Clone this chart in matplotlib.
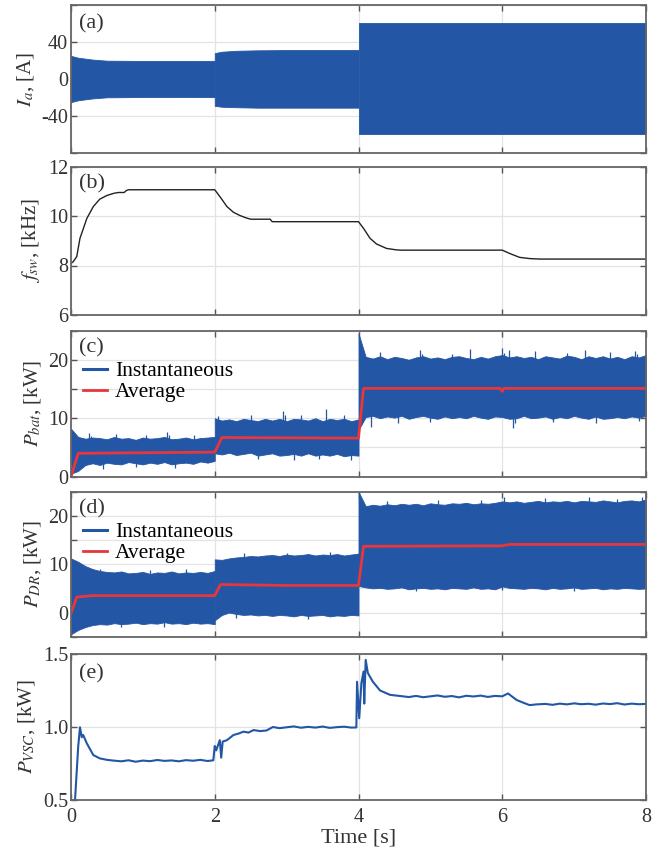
import numpy as np
import matplotlib
matplotlib.use("Agg")
import matplotlib.pyplot as plt

plt.rcParams['font.family'] = ['Liberation Serif', 'DejaVu Serif']
plt.rcParams['mathtext.fontset'] = 'stix'
plt.rcParams['font.size'] = 15

BLUE = '#2356a5'
RED = '#e8363a'
BLACK = '#222222'
TXT = '#333333'

# ---- (a) phase current envelope, [A]
ia_t1 = [0.0, 0.1, 0.3, 0.5, 1.0, 1.5, 2.0]
ia_up1 = [25.0, 23.0, 21.0, 19.8, 19.5, 19.5, 19.6]
ia_lo1 = [-25.0, -23.0, -21.0, -19.8, -19.5, -19.5, -19.6]
ia_t2 = [2.0, 2.1, 2.3, 2.6, 3.0, 4.0]
ia_up2 = [28.0, 29.5, 30.5, 31.0, 31.3, 31.3]
ia_lo2 = [-29.0, -30.0, -30.5, -31.0, -31.0, -31.0]
ia_t3 = [4.0, 8.0]
ia_up3 = [60.5, 60.5]
ia_lo3 = [-59.5, -59.5]

# ---- (b) switching frequency, [kHz]
fsw_t = [0.0, 0.03, 0.08, 0.125, 0.22, 0.31, 0.40, 0.50, 0.60, 0.66, 0.74, 0.77, 0.80,
         2.0, 2.07, 2.17, 2.26, 2.35, 2.44, 2.50, 2.77, 2.80,
         4.0, 4.07, 4.16, 4.25, 4.39, 4.53, 4.60,
         6.0, 6.1, 6.24, 6.38, 6.52, 8.0]
fsw = [8.09, 8.15, 8.36, 9.1, 9.9, 10.38, 10.68, 10.83, 10.92, 10.95, 10.95, 11.03, 11.06,
       11.06, 10.79, 10.38, 10.15, 10.02, 9.92, 9.87, 9.87, 9.77,
       9.77, 9.5, 9.1, 8.87, 8.69, 8.63, 8.62,
       8.62, 8.49, 8.33, 8.28, 8.26, 8.26]

# ---- (c) battery power, [kW]  (envelope of instantaneous + spikes + average)
pbat_up1 = [8.2, 6.8, 6.5, 6.7, 6.6, 6.4, 6.8, 6.5, 6.6, 6.3, 6.7,
            6.5, 6.6, 6.8, 6.4, 6.5, 6.7, 6.4, 6.6, 6.7, 6.8]
pbat_lo1 = [0.5, 1.0, 2.0, 2.3, 2.0, 2.4, 2.2, 2.1, 2.5, 2.3, 2.1,
            2.4, 2.2, 2.5, 2.1, 2.3, 2.4, 2.2, 2.6, 2.4, 2.7]
pbat_up2 = [10.0, 9.6, 9.8, 9.5, 9.9, 9.7, 9.5, 9.9, 9.6, 9.9, 9.5,
            9.9, 9.8, 9.6, 10.0, 9.5, 9.9, 9.7, 9.9, 9.5, 9.8]
pbat_lo2 = [4.0, 3.8, 4.1, 3.7, 3.9, 4.1, 3.6, 3.8, 4.0, 3.6, 3.7,
            3.9, 3.6, 4.0, 3.6, 3.8, 3.6, 3.9, 3.5, 3.7, 3.6]
pbat_up3 = [24.5, 20.5, 20.2, 20.6, 20.1, 20.5, 20.3, 20.0, 20.4, 20.6, 20.2,
            20.4, 20.1, 20.5, 20.6, 20.3, 20.1, 20.5, 20.2, 20.6, 20.8,
            20.4, 20.6, 20.3, 20.5, 20.1, 20.6, 20.4, 20.2, 20.7, 20.5,
            20.1, 20.6, 20.3, 20.6, 20.2, 20.5, 20.1, 20.6, 20.4, 20.8]
pbat_lo3 = [8.0, 10.2, 10.4, 10.0, 10.3, 10.1, 10.4, 9.9, 10.2, 10.4, 10.1,
            9.9, 10.3, 10.0, 10.2, 10.0, 10.4, 10.1, 9.9, 10.3, 10.2,
            9.9, 10.0, 10.4, 10.0, 10.1, 10.3, 9.9, 10.2, 10.0, 10.4,
            10.1, 9.9, 10.3, 9.9, 10.0, 10.2, 10.0, 10.3, 10.1, 10.4]
pbat_spk_up_t = [0.25, 0.28, 0.62, 1.05, 1.33, 1.36, 1.71, 2.05, 2.5, 2.95, 2.98, 3.2, 3.55, 3.8,
                 4.3, 4.85, 4.88, 5.3, 5.55, 6.0, 6.03, 6.1, 6.45, 6.9, 7.15, 7.5, 7.85, 7.88]
pbat_spk_up = [7.5, 7.0, 7.3, 7.1, 7.6, 7.2, 7.2, 10.3, 10.6, 11.3, 10.5, 10.6, 11.6, 10.5,
               21.3, 21.6, 21.0, 21.0, 21.8, 22.0, 21.2, 21.6, 21.5, 21.2, 21.6, 21.3, 21.5, 21.0]
pbat_spk_lo_t = [0.45, 0.9, 1.45, 2.6, 3.1, 3.45, 3.9, 4.18, 4.55, 5.0, 6.15, 6.18, 6.7, 7.3, 7.9]
pbat_spk_lo = [1.4, 1.6, 1.5, 3.0, 2.8, 3.1, 2.9, 8.5, 9.2, 9.4, 8.3, 9.2, 9.3, 9.2, 9.5]
pbat_avg_t = [0.0, 0.1, 2.0, 2.1, 4.0, 4.07, 5.97, 6.0, 6.02, 8.0]
pbat_avg = [0.0, 4.0, 4.2, 6.7, 6.6, 15.1, 15.1, 14.6, 15.1, 15.1]

# ---- (d) diode rectifier power, [kW]
pdr_up1 = [11.2, 10.5, 9.6, 9.0, 8.6, 8.4, 8.3, 8.5, 8.1, 8.2, 8.4,
           8.0, 8.3, 8.2, 8.5, 8.1, 8.3, 8.2, 8.4, 8.2, 8.6]
pdr_lo1 = [-4.5, -3.6, -3.0, -2.6, -2.4, -2.5, -2.2, -2.4, -2.3, -2.1, -2.4,
           -2.2, -2.3, -2.0, -2.3, -2.2, -2.4, -2.1, -2.3, -2.2, -2.4]
pdr_up2 = [11.0, 10.9, 11.2, 11.4, 11.5, 11.7, 11.6, 11.8, 11.9, 11.7, 12.0,
           11.8, 11.9, 12.1, 11.8, 12.0, 11.9, 12.1, 11.8, 12.0, 12.2]
pdr_lo2 = [-1.6, -0.5, 0.0, -0.3, -0.5, -0.4, -0.6, -0.5, -0.7, -0.5, -0.6,
           -0.8, -0.5, -0.7, -0.6, -0.5, -0.8, -0.6, -0.7, -0.5, -0.6]
pdr_up3 = [25.0, 22.0, 22.3, 22.1, 22.4, 22.2, 22.5, 22.3, 22.5, 22.2, 22.6,
           22.4, 22.3, 22.6, 22.5, 22.7, 22.4, 22.6, 22.5, 22.7, 23.0,
           22.8, 23.0, 22.7, 22.9, 23.1, 22.8, 23.0, 22.9, 23.1, 22.8,
           23.1, 23.0, 22.9, 23.2, 23.0, 22.8, 23.1, 23.2, 23.0, 23.4]
pdr_lo3 = [5.5, 5.2, 5.0, 5.1, 4.9, 5.0, 5.2, 4.8, 5.0, 5.1, 4.9,
           5.0, 4.8, 5.1, 5.0, 4.9, 5.2, 4.9, 5.0, 4.8, 5.4,
           5.1, 5.0, 4.9, 5.1, 5.0, 4.8, 5.1, 4.9, 5.0, 5.2,
           4.9, 5.0, 5.1, 4.8, 5.0, 4.9, 5.1, 5.0, 4.9, 5.0]
pdr_spk_up_t = [0.4, 1.1, 1.6, 2.4, 3.0, 3.6, 4.4, 5.1, 5.7, 6.02, 6.6, 7.2, 7.6, 7.95]
pdr_spk_up = [9.0, 8.9, 9.1, 12.3, 12.4, 12.6, 23.0, 23.2, 23.3, 23.8, 23.6, 23.9, 23.5, 24.0]
pdr_spk_lo_t = [0.7, 1.3, 2.3, 3.3, 4.8, 6.0, 7.0]
pdr_spk_lo = [-3.0, -2.9, -1.2, -1.3, 4.5, 4.6, 4.4]
pdr_avg_t = [0.0, 0.08, 0.3, 2.0, 2.08, 3.0, 4.0, 4.07, 6.0, 6.1, 8.0]
pdr_avg = [-0.2, 3.2, 3.5, 3.5, 5.8, 5.6, 5.6, 13.7, 13.8, 14.1, 14.1]

# ---- (e) VSC power, [kW]
pvsc_t = [0.0, 0.056, 0.10, 0.125, 0.15, 0.17, 0.22, 0.31, 0.40, 0.50, 0.59,
          0.7, 0.8, 0.9, 1.0, 1.1, 1.2, 1.3, 1.4, 1.5, 1.6, 1.7, 1.8, 1.9,
          1.98, 2.0, 2.02, 2.07, 2.09, 2.11, 2.17, 2.26, 2.33, 2.40, 2.47, 2.54, 2.63, 2.72, 2.81,
          2.9, 3.0, 3.1, 3.2, 3.3, 3.4, 3.5, 3.6, 3.7, 3.8, 3.9,
          3.97, 3.98, 4.01, 4.04, 4.07, 4.08, 4.10, 4.13, 4.20, 4.30, 4.44, 4.62,
          4.7, 4.8, 4.9, 5.0, 5.1, 5.2, 5.3, 5.4, 5.5, 5.6, 5.7, 5.8, 5.9,
          6.0, 6.08, 6.2, 6.3, 6.38, 6.48,
          6.6, 6.7, 6.8, 6.9, 7.0, 7.1, 7.2, 7.3, 7.4, 7.5, 7.6, 7.7, 7.8, 7.9, 8.0]
pvsc = [0.45, 0.5, 0.865, 0.998, 0.93, 0.945, 0.888, 0.808, 0.785, 0.775, 0.77,
        0.765, 0.772, 0.762, 0.770, 0.766, 0.774, 0.768, 0.771, 0.765, 0.773, 0.769, 0.775, 0.767,
        0.772, 0.87, 0.84, 0.91, 0.79, 0.90, 0.91, 0.945, 0.955, 0.968, 0.962, 0.979, 0.972, 0.976, 1.0,
        0.992, 0.998, 1.004, 0.995, 1.001, 0.996, 1.003, 0.994, 0.999, 1.002, 0.996,
        0.997, 1.31, 1.06, 1.30, 1.38, 1.16, 1.46, 1.37, 1.31, 1.25, 1.22, 1.21,
        1.205, 1.213, 1.204, 1.21, 1.216, 1.207, 1.212, 1.203, 1.214, 1.209, 1.215, 1.206, 1.213,
        1.21, 1.23, 1.185, 1.165, 1.15, 1.155,
        1.158, 1.152, 1.16, 1.155, 1.162, 1.156, 1.159, 1.153, 1.161, 1.157, 1.163, 1.154, 1.16, 1.156, 1.158]

seg_t1 = np.linspace(0, 2, 21)
seg_t2 = np.linspace(2, 4, 21)
seg_t3 = np.linspace(4, 8, 41)


def style_axis(ax, ylim, yticks, ylabels, tag, tag_y):
    ax.set_xlim(0, 8)
    ax.set_ylim(*ylim)
    ax.set_xticks([0, 2, 4, 6, 8])
    ax.set_yticks(yticks)
    ax.set_yticklabels(ylabels)
    ax.grid(True, color='#e3e3e3', lw=0.9)
    ax.set_axisbelow(True)
    ax.tick_params(direction='in', top=True, right=True, length=4, width=1,
                   color='#555555', labelcolor=TXT, labelsize=14.5, pad=2)
    for s in ax.spines.values():
        s.set_color('#666666')
        s.set_linewidth(1.3)
    ax.text(0.014, tag_y, tag, transform=ax.transAxes, ha='left', va='top',
            fontsize=16, color=TXT)


def band(ax, t_list, up_list, lo_list):
    for t, up, lo in zip(t_list, up_list, lo_list):
        ax.fill_between(t, lo, up, color=BLUE, lw=0.6, edgecolor=BLUE)


def spikes(ax, t_up, v_up, t_lo, v_lo, depth):
    v_up = np.asarray(v_up)
    v_lo = np.asarray(v_lo)
    ax.vlines(t_up, v_up - depth, v_up, color=BLUE, lw=0.9)
    ax.vlines(t_lo, v_lo, v_lo + depth, color=BLUE, lw=0.9)


fig = plt.figure(figsize=(6.68, 8.52), dpi=100)
L, W = 71 / 668, 575 / 668
H = 852
pos = [(5, 153), (166.5, 315), (330.5, 476.7), (491.7, 636.7), (654, 800)]
axes = [fig.add_axes([L, 1 - b / H, W, (b - t) / H]) for t, b in pos]
ax_a, ax_b, ax_c, ax_d, ax_e = axes

# (a)
band(ax_a, [ia_t1, ia_t2, ia_t3], [ia_up1, ia_up2, ia_up3], [ia_lo1, ia_lo2, ia_lo3])
style_axis(ax_a, (-80, 80), [-80, -40, 0, 40, 80], ['', '-40', '0', '40', ''], '(a)', 0.94)
ax_a.set_ylabel(r'$I_a$, [A]', color=TXT)

# (b)
ax_b.plot(fsw_t, fsw, color=BLACK, lw=1.0)
style_axis(ax_b, (6, 12), [6, 8, 10, 12], ['6', '8', '10', '12'], '(b)', 0.95)
ax_b.set_ylabel(r'$f_{sw}$, [kHz]', color=TXT)

leg_kw = dict(loc='upper left', bbox_to_anchor=(0.021, 0.79), frameon=False, borderaxespad=0,
              borderpad=0, handlelength=1.1, handletextpad=0.37, labelspacing=0.05,
              fontsize=15.5)

# (c)
band(ax_c, [seg_t1, seg_t2, seg_t3], [pbat_up1, pbat_up2, pbat_up3], [pbat_lo1, pbat_lo2, pbat_lo3])
spikes(ax_c, pbat_spk_up_t, pbat_spk_up, pbat_spk_lo_t, pbat_spk_lo, 2.0)
ax_c.plot([], [], color=BLUE, lw=2.2, label='Instantaneous')
ax_c.plot(pbat_avg_t, pbat_avg, color=RED, lw=2.0, label='Average')
style_axis(ax_c, (0, 25), [0, 5, 10, 15, 20, 25], ['0', '', '10', '', '20', ''], '(c)', 0.95)
ax_c.set_ylabel(r'$P_{bat}$, [kW]', color=TXT)
ax_c.legend(**leg_kw)

# (d)
band(ax_d, [seg_t1, seg_t2, seg_t3], [pdr_up1, pdr_up2, pdr_up3], [pdr_lo1, pdr_lo2, pdr_lo3])
spikes(ax_d, pdr_spk_up_t, pdr_spk_up, pdr_spk_lo_t, pdr_spk_lo, 2.0)
ax_d.plot([], [], color=BLUE, lw=2.2, label='Instantaneous')
ax_d.plot(pdr_avg_t, pdr_avg, color=RED, lw=2.0, label='Average')
style_axis(ax_d, (-5, 25), [-5, 0, 5, 10, 15, 20, 25], ['', '0', '', '10', '', '20', ''], '(d)', 0.95)
ax_d.set_ylabel(r'$P_{DR}$, [kW]', color=TXT)
ax_d.legend(**leg_kw)

# (e)
ax_e.plot(pvsc_t, pvsc, color=BLUE, lw=1.5)
style_axis(ax_e, (0.5, 1.5), [0.5, 1.0, 1.5], ['0.5', '1.0', '1.5'], '(e)', 0.93)
ax_e.set_ylabel(r'$P_{VSC}$, [kW]', color=TXT)
ax_e.tick_params(axis='x', pad=6)
ax_e.set_xlabel('Time [s]', color=TXT, fontsize=16, labelpad=1)

for ax in axes[:-1]:
    ax.tick_params(labelbottom=False)

fig.align_ylabels(axes)
fig.savefig('out.png', dpi=100)
